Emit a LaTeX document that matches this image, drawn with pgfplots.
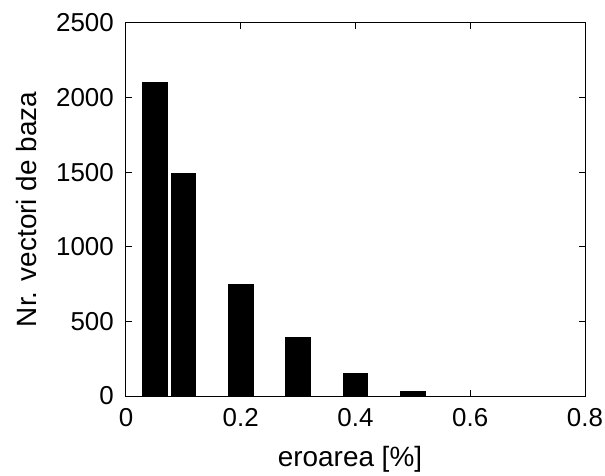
\documentclass[border=0pt]{standalone}
\usepackage{fontspec}
\setmainfont{Liberation Sans}
\usepackage{pgfplots}
\pgfplotsset{compat=1.18}
\begin{document}
\begin{tikzpicture}
\begin{axis}[
  scale only axis, width=459bp, height=373bp,
  xmin=0, xmax=0.8, ymin=0, ymax=2500,
  xtick={0,0.2,0.4,0.6,0.8}, ytick={0,500,1000,1500,2000,2500},
  xticklabels={0,0.2,0.4,0.6,0.8},
  tick align=inside, major tick length=6bp,
  axis line style={line width=1bp},
  every tick/.style={black, line width=1bp},
  /pgf/number format/assume math mode=true,
  scaled y ticks=false,
  y tick label style={/pgf/number format/1000 sep={}},
  ticklabel style={font=\fontsize{26}{30}\selectfont},
  xticklabel style={anchor=north, inner sep=0pt, yshift=-12bp},
  yticklabel style={anchor=east, inner sep=0pt, xshift=-12bp},
  xlabel={eroarea [\%]},
  ylabel={Nr. vectori de baza},
  label style={font=\fontsize{28}{32}\selectfont},
  xlabel style={at={(axis description cs:0.488,-0.19)}, anchor=base},
  ylabel style={at={(axis description cs:-0.196,0.5)}, anchor=base, rotate=0},
]
\addplot[ybar, bar width=0.043, fill=black, draw=black, line width=1bp]
  coordinates {(0.05,2100) (0.1,1490) (0.2,745) (0.3,390) (0.4,150) (0.5,30)};
\end{axis}
\path ([xshift=-126bp,yshift=-78bp]current axis.south west) rectangle ([xshift=20bp,yshift=23bp]current axis.north east);
\end{tikzpicture}
\end{document}
